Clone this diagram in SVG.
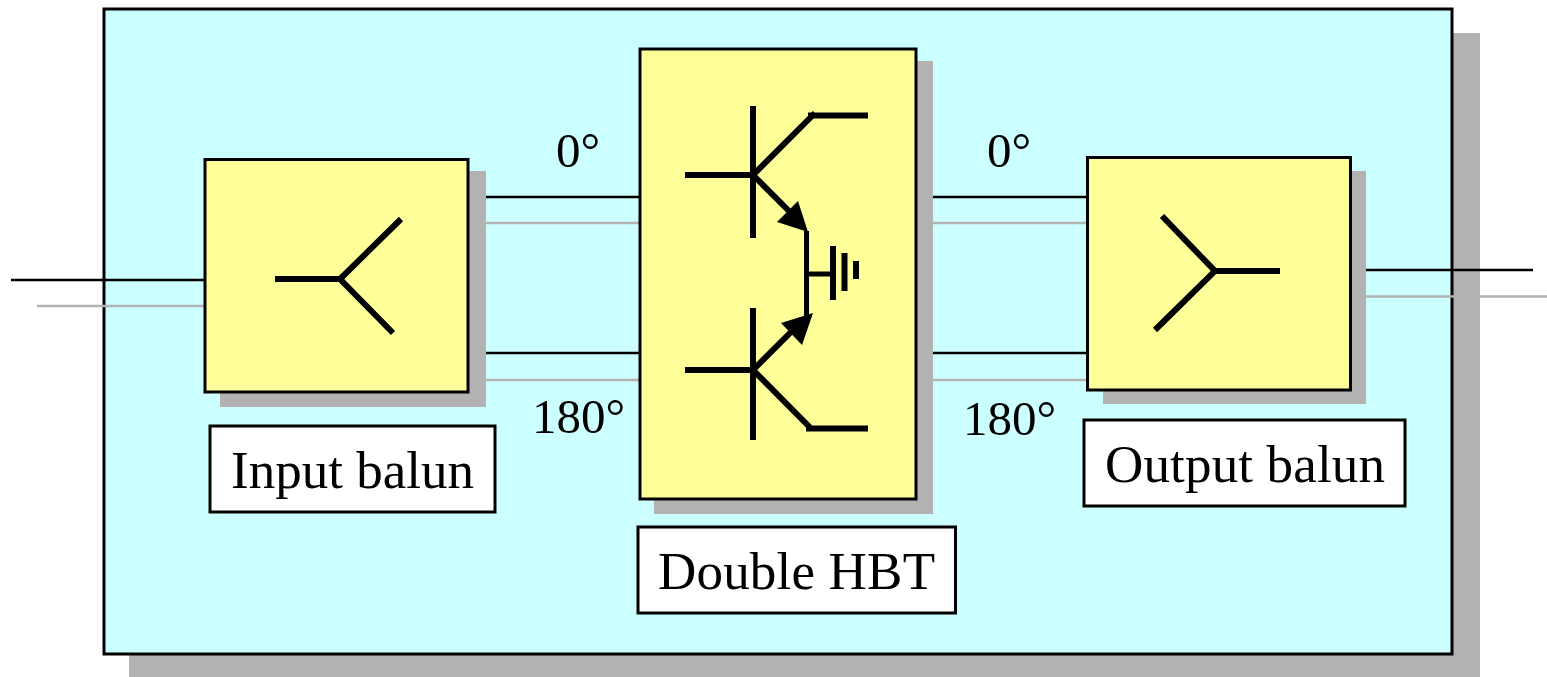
<svg xmlns="http://www.w3.org/2000/svg" width="1547" height="677" viewBox="0 0 1547 677">
<style>
.sh{fill:#b2b2b2}
.box{fill:#ffff99;stroke:#000;stroke-width:3}
.lab{fill:#fff;stroke:#000;stroke-width:3}
.k{stroke:#000;stroke-width:2.5;fill:none}
.g{stroke:#b2b2b2;stroke-width:2.5;fill:none}
.sym{stroke:#000;stroke-width:6;fill:none}
.t{font-family:"Liberation Serif","Times New Roman",serif;font-size:53px;fill:#000}
.p{font-size:49px}
</style>
<rect width="1547" height="677" fill="#fff"/>
<g id="panel">
<rect class="sh" x="129" y="33" width="1351" height="644"/>
<rect x="104" y="9" width="1348" height="645" fill="#ccffff" stroke="#000" stroke-width="3"/>
</g>
<g id="connectors">
<path class="g" d="M37 306H205M486 223H640M486 380H640M933 223H1088M933 380H1088M1366 296.500H1547"/>
<path class="k" d="M11 280H205M486 197H640M486 353H640M933 197H1088M933 353H1088M1366 270H1533"/>
</g>
<g id="input-balun">
<rect class="sh" x="220" y="171" width="266" height="236"/>
<rect class="box" x="205" y="159.500" width="263" height="232.500"/>
<path class="sym" d="M275 279H342M401 219L340 279L393 333"/>
</g>
<g id="double-hbt">
<rect class="sh" x="654" y="61" width="279" height="453"/>
<rect class="box" x="640" y="49" width="276" height="450"/>
<path class="sym" d="M753 106V238M685 175H753M753 175L815 113M808 115.500H868"/>
<path class="sym" d="M753 175L792 214"/>
<polygon points="808,232 777,222 798,201"/>
<path class="sym" style="stroke-width:5" d="M806.500 231V317M806 274H833"/>
<path class="sym" d="M833 246V300M844.500 253V291M856 261V279"/>
<path class="sym" d="M753 308V440M685 370H753M753 370L796 327"/>
<polygon points="813,313 802,345 781,323"/>
<path class="sym" d="M753 370L809 426.500L809 428.500H868"/>
</g>
<g id="output-balun">
<rect class="sh" x="1103" y="171" width="263" height="233"/>
<rect class="box" x="1087.500" y="157.500" width="263" height="232.500"/>
<path class="sym" d="M1280 271H1213M1162 216L1215 271L1155 330"/>
</g>
<g id="label-input">
<rect class="lab" x="210" y="426" width="285" height="86"/>
<text class="t" x="231" y="488" textLength="243">Input balun</text>
</g>
<g id="label-double">
<rect class="lab" x="638" y="527" width="317.500" height="86"/>
<text class="t" x="658" y="589" textLength="277">Double HBT</text>
</g>
<g id="label-output">
<rect class="lab" x="1084" y="420" width="321" height="86"/>
<text class="t" x="1105" y="482" textLength="280">Output balun</text>
</g>
<g id="phase-labels">
<text class="t p" x="556" y="166.500">0°</text>
<text class="t p" x="532" y="432.500">180°</text>
<text class="t p" x="987" y="166.500">0°</text>
<text class="t p" x="963" y="434.500">180°</text>
</g>
</svg>
